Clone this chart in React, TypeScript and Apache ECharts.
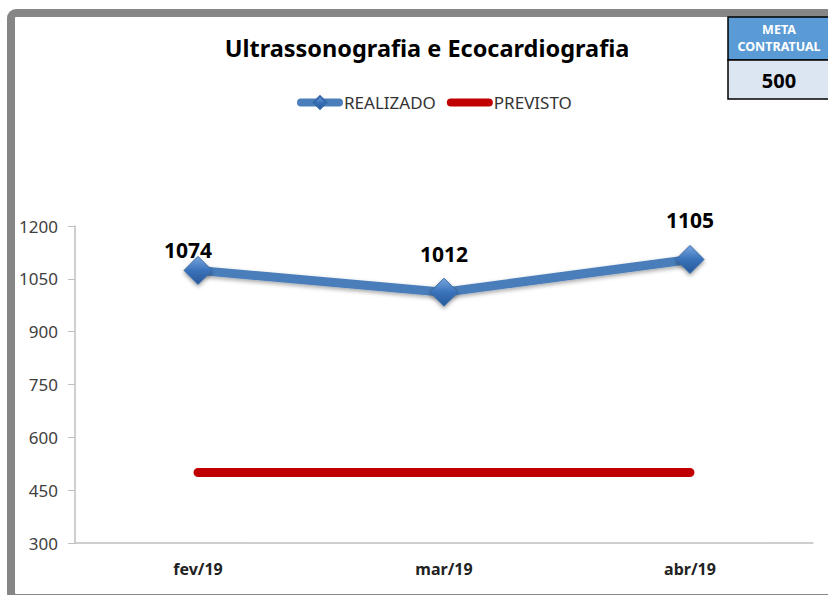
import React, { useEffect, useRef } from "react";
import * as echarts from "echarts";

const categories = ["fev/19", "mar/19", "abr/19"];
const realizado = [1074, 1012, 1105];
const previsto = [500, 500, 500];
const metaValue = "500";

export default function App() {
  const ref = useRef<HTMLDivElement>(null);
  useEffect(() => {
    const chart = echarts.init(ref.current!, null, { renderer: "svg" });
    const font = "Noto Sans, Open Sans, sans-serif";
    // label nudges (style only), mimicking the original placement
    const labelNudges = [
      [-10, 5],
      [0, -13],
      [0, -14],
    ];
    chart.setOption({
      animation: false,
      backgroundColor: "#ffffff",
      textStyle: { fontFamily: font },
      title: {
        text: "Ultrassonografia e Ecocardiografia",
        left: 422,
        textAlign: "center",
        top: 31,
        textStyle: { fontSize: 23.5, fontWeight: "bold", color: "#000", fontFamily: font },
      },
      legend: {
        top: 89,
        left: 292,
        itemWidth: 38,
        itemHeight: 16,
        itemGap: 11,
        lineStyle: { width: 8, cap: "round" },
        textStyle: { fontSize: 17, color: "#333", fontFamily: font },
        data: [
          { name: "REALIZADO" },
          { name: "PREVISTO", itemStyle: { opacity: 0 } },
        ],
      },
      grid: { left: 75, right: 15, top: 226, bottom: 52 },
      xAxis: {
        type: "category",
        data: categories,
        boundaryGap: true,
        axisLine: { lineStyle: { color: "#BFBFBF", width: 1.5 } },
        axisTick: { show: false },
        axisLabel: { margin: 18, fontSize: 16, fontWeight: "bold", color: "#222", fontFamily: font },
      },
      yAxis: {
        type: "value",
        min: 300,
        max: 1200,
        interval: 150,
        splitLine: { show: false },
        axisLine: { show: true, lineStyle: { color: "#BFBFBF", width: 1.5 } },
        axisTick: { show: true, length: 7, lineStyle: { color: "#BFBFBF" } },
        axisLabel: {
          margin: 17,
          fontSize: 17,
          color: "#404040",
          fontFamily: font,
          formatter: (v: number) => String(v),
        },
      },
      series: [
        {
          name: "REALIZADO",
          type: "line",
          data: realizado.map((v, i) => ({
            value: v,
            label: { offset: labelNudges[i] },
          })),
          symbol: "diamond",
          symbolSize: 28,
          lineStyle: {
            color: "#4A7EBB",
            width: 9,
            shadowColor: "rgba(0,0,0,0.35)",
            shadowBlur: 4,
            shadowOffsetY: 2,
          },
          itemStyle: {
            color: new echarts.graphic.LinearGradient(0, 0, 0, 1, [
              { offset: 0, color: "#77A6DD" },
              { offset: 0.5, color: "#3A72BA" },
              { offset: 1, color: "#275A98" },
            ]),
            borderColor: "#3568A8",
            borderWidth: 1,
            shadowColor: "rgba(0,0,0,0.4)",
            shadowBlur: 4,
            shadowOffsetY: 2,
          },
          label: {
            show: true,
            position: "top",
            distance: 0,
            fontSize: 21,
            fontWeight: "bold",
            color: "#000",
            fontFamily: font,
          },
          z: 3,
        },
        {
          name: "PREVISTO",
          type: "line",
          data: previsto,
          symbol: "none",
          lineStyle: { color: "#C00000", width: 9, cap: "round" },
          itemStyle: { color: "#C00000" },
          z: 2,
        },
      ],
      graphic: [
        {
          type: "rect",
          shape: { x: 11, y: 13, width: 830, height: 585, r: 5 },
          style: { fill: "none", stroke: "#868686", lineWidth: 8 },
          z: 10,
        },
        {
          type: "rect",
          shape: { x: 728, y: 17, width: 102, height: 43 },
          style: { fill: "#5B9BD5", stroke: "#000", lineWidth: 1.5 },
          z: 11,
        },
        {
          type: "text",
          x: 779,
          y: 38,
          style: {
            text: "META\nCONTRATUAL",
            fill: "#fff",
            font: "bold 12.5px " + font,
            textAlign: "center",
            textVerticalAlign: "middle",
            lineHeight: 17,
          },
          z: 12,
        },
        {
          type: "rect",
          shape: { x: 728, y: 60, width: 102, height: 39 },
          style: { fill: "#DCE6F2", stroke: "#000", lineWidth: 1.5 },
          z: 11,
        },
        {
          type: "text",
          x: 779,
          y: 80,
          style: {
            text: metaValue,
            fill: "#000",
            font: "bold 20px " + font,
            textAlign: "center",
            textVerticalAlign: "middle",
          },
          z: 12,
        },
      ],
    });
    return () => chart.dispose();
  }, []);
  return (
    <div
      ref={ref}
      style={{ position: "fixed", left: 0, top: 0, width: 828, height: 595 }}
    />
  );
}
